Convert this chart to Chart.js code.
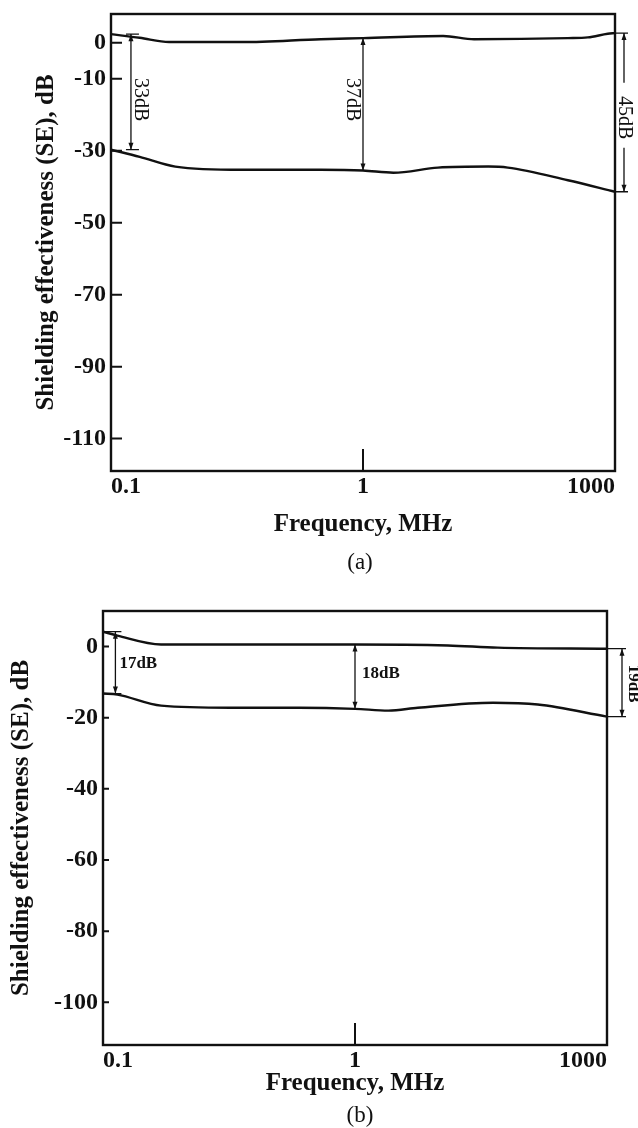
<!DOCTYPE html>
<html>
<head>
<meta charset="utf-8">
<script src="https://cdn.jsdelivr.net/npm/chart.js@4.4.1/dist/chart.umd.min.js"></script>
<style>
  html, body { margin: 0; padding: 0; background: #fff; }
  canvas { display: block; }
</style>
</head>
<body>
<canvas id="chartA" width="638" height="580"></canvas>
<canvas id="chartB" width="638" height="548"></canvas>
<script>
// x axis labels, MHz (the figure gives 0.1-1 and 1-1000 equal halves)
var freqTicks = [0.1, 1, 1000];

// (a)
var freqTopA = [0.1, 0.13, 0.17, 0.33, 0.68, 1, 9, 21, 275, 475, 820, 1000];
var seTopA   = [2.4, 1.4, 0.2, 0.2, 1.0, 1.3, 1.9, 1.0, 1.3, 1.5, 2.5, 2.7];
var freqBotA = [0.1, 0.13, 0.18, 0.33, 0.68, 1, 2.3, 7.8, 31, 53, 275, 1000];
var seBotA   = [-29.7, -31.7, -34.4, -35.3, -35.3, -35.5, -36.1, -34.7, -34.4, -34.7, -38.2, -41.4];
var yTicksA  = [0, -10, -30, -50, -70, -90, -110];

// (b)
var freqTopB = [0.1, 0.114, 0.17, 0.73, 1, 12.8, 50, 1000];
var seTopB   = [4.2, 3.1, 0.6, 0.6, 0.6, 0.3, -0.3, -0.6];
var freqBotB = [0.1, 0.114, 0.17, 0.32, 0.6, 1, 2.5, 5.6, 44, 150, 1000];
var seBotB   = [-13.2, -13.5, -16.6, -17.2, -17.2, -17.5, -18.0, -17.2, -15.8, -16.3, -19.7];
var yTicksB  = [0, -20, -40, -60, -80, -100];

var INK = '#111';
var SERIF = '"Liberation Serif", "DejaVu Serif", serif';

// frequency -> position on the 0..1 axis
function fpos(f) {
  return f <= 1 ? (Math.log10(f) + 1) / 2 : 0.5 + Math.log10(f) / 6;
}

function toXY(freq, se) {
  return freq.map(function(f, i) { return {x: fpos(f), y: se[i]}; });
}

function arrowHead(ctx, x, y, dir) {
  ctx.beginPath();
  ctx.moveTo(x, y);
  ctx.lineTo(x - 2.5, y - dir * 7);
  ctx.lineTo(x + 2.5, y - dir * 7);
  ctx.closePath();
  ctx.fill();
}

// double arrow between y1 (top) and y2 (bottom)
function dimLine(ctx, x, y1, y2, cap, gap) {
  ctx.save();
  ctx.strokeStyle = INK;
  ctx.fillStyle = INK;
  ctx.lineWidth = 1.3;
  ctx.beginPath();
  if (gap) {
    ctx.moveTo(x, y1); ctx.lineTo(x, gap[0]);
    ctx.moveTo(x, gap[1]); ctx.lineTo(x, y2);
  } else {
    ctx.moveTo(x, y1); ctx.lineTo(x, y2);
  }
  if (cap) {
    ctx.moveTo(cap[0], y1); ctx.lineTo(cap[1], y1);
    ctx.moveTo(cap[0], y2); ctx.lineTo(cap[1], y2);
  }
  ctx.stroke();
  arrowHead(ctx, x, y1, -1);
  arrowHead(ctx, x, y2, 1);
  ctx.restore();
}

function label(ctx, text, x, y, font, rotated) {
  ctx.save();
  ctx.font = font;
  ctx.fillStyle = INK;
  ctx.textBaseline = 'middle';
  ctx.textAlign = rotated ? 'center' : 'left';
  ctx.translate(x, y);
  if (rotated) ctx.rotate(Math.PI / 2);
  ctx.fillText(text, 0, 0);
  ctx.restore();
}

function caption(ctx, text, x, y) {
  ctx.save();
  ctx.font = '23px ' + SERIF;
  ctx.fillStyle = INK;
  ctx.textAlign = 'center';
  ctx.textBaseline = 'middle';
  ctx.fillText(text, x, y);
  ctx.restore();
}

function annotateA(chart) {
  var ctx = chart.ctx, a = chart.chartArea, xs = chart.scales.x, ys = chart.scales.y;
  var px = function(f) { return xs.getPixelForValue(fpos(f)); };
  var py = function(v) { return ys.getPixelForValue(v); };
  var f = '20px ' + SERIF;

  var x1 = px(0.12);
  dimLine(ctx, x1, py(2.4), py(-29.7), [x1 - 5, x1 + 8]);
  label(ctx, '33dB', x1 + 9, py(-15.8), f, true);

  var x2 = px(1);
  dimLine(ctx, x2, py(1.3), py(-35.5));
  label(ctx, '37dB', x2 - 11, py(-15.8), f, true);

  var x3 = a.right + 9;
  var yc = py(-20.8);
  dimLine(ctx, x3, py(2.7), py(-41.4), [a.right, a.right + 13], [yc - 35, yc + 30]);
  label(ctx, '45dB', x3, yc, f, true);

  caption(ctx, '(a)', 360, 563);
}

function annotateB(chart) {
  var ctx = chart.ctx, a = chart.chartArea, xs = chart.scales.x, ys = chart.scales.y;
  var px = function(f) { return xs.getPixelForValue(fpos(f)); };
  var py = function(v) { return ys.getPixelForValue(v); };
  var f = 'bold 17px ' + SERIF;

  var x1 = px(0.112);
  dimLine(ctx, x1, py(4.2), py(-13.2), [a.left, x1 + 6]);
  label(ctx, '17dB', x1 + 4, py(-4.8), f, false);

  var x2 = px(1);
  dimLine(ctx, x2, py(0.6), py(-17.5));
  label(ctx, '18dB', x2 + 7, py(-7.6), f, false);

  var x3 = a.right + 15;
  dimLine(ctx, x3, py(-0.6), py(-19.7), [a.right, a.right + 19]);
  label(ctx, '19dB', x3 + 11, py(-10.4), f, true);

  caption(ctx, '(b)', 360, 536);
}

function framePlugin(tickLen, annotate) {
  return {
    id: 'frame',
    afterDatasetsDraw: function(chart) {
      var ctx = chart.ctx, a = chart.chartArea, ys = chart.scales.y, xs = chart.scales.x;
      ctx.save();
      ctx.strokeStyle = INK;
      ctx.lineWidth = 2.4;
      ctx.strokeRect(a.left, a.top, a.right - a.left, a.bottom - a.top);
      ctx.lineWidth = 2;
      ctx.beginPath();
      ys.ticks.forEach(function(t) {
        var y = ys.getPixelForValue(t.value);
        ctx.moveTo(a.left, y);
        ctx.lineTo(a.left + tickLen, y);
      });
      var mx = xs.getPixelForValue(fpos(1));
      ctx.moveTo(mx, a.bottom);
      ctx.lineTo(mx, a.bottom - 22);
      ctx.stroke();
      ctx.restore();
      annotate(chart);
    }
  };
}

function lineSet(data) {
  return {
    data: data,
    borderColor: INK,
    borderWidth: 2.4,
    pointRadius: 0,
    fill: false,
    cubicInterpolationMode: 'monotone'
  };
}

function makeChart(id, c) {
  return new Chart(document.getElementById(id), {
    type: 'line',
    data: {
      datasets: [lineSet(c.top), lineSet(c.bottom)]
    },
    options: {
      responsive: false,
      animation: false,
      devicePixelRatio: 1,
      layout: { padding: c.pad },
      plugins: { legend: { display: false }, tooltip: { enabled: false } },
      scales: {
        x: {
          type: 'linear',
          min: 0,
          max: 1,
          grid: { display: false, drawTicks: false },
          border: { display: false },
          afterBuildTicks: function(scale) {
            scale.ticks = freqTicks.map(function(f) { return {value: fpos(f)}; });
          },
          afterFit: function(scale) {
            scale.height = c.axisH;
            scale.paddingLeft = 0; scale.paddingRight = 0;
          },
          ticks: {
            autoSkip: false,
            maxRotation: 0,
            align: 'inner',
            padding: 1,
            color: INK,
            font: { family: SERIF, size: 24, weight: 'bold', lineHeight: 1.2 },
            callback: function(value, index) { return String(freqTicks[index]); }
          },
          title: {
            display: true,
            text: 'Frequency, MHz',
            color: INK,
            font: { family: SERIF, size: 25, weight: 'bold', lineHeight: 1.2 },
            padding: { top: 0, bottom: c.xTitlePad }
          }
        },
        y: {
          min: c.yMin,
          max: c.yMax,
          grid: { display: false, drawTicks: false },
          border: { display: false },
          afterBuildTicks: function(scale) {
            scale.ticks = c.yTicks.map(function(v) { return {value: v}; });
          },
          afterFit: function(scale) {
            scale.width = c.axisW;
            scale.paddingTop = 0; scale.paddingBottom = 0;
          },
          ticks: {
            padding: 5,
            color: INK,
            font: { family: SERIF, size: 24, weight: 'bold', lineHeight: 1.2 },
            callback: function(value) { return String(value); }
          },
          title: {
            display: true,
            text: 'Shielding effectiveness (SE), dB',
            color: INK,
            font: { family: SERIF, size: 25, weight: 'bold', lineHeight: 1.2 },
            padding: { top: c.yTitlePad, bottom: 0 }
          }
        }
      }
    },
    plugins: [framePlugin(c.tickLen, c.annotate)]
  });
}

makeChart('chartA', {
  top: toXY(freqTopA, seTopA),
  bottom: toXY(freqBotA, seBotA),
  yMin: -119, yMax: 8, yTicks: yTicksA,
  pad: { top: 14, right: 23, left: 0, bottom: 0 },
  axisW: 111, axisH: 109,
  xTitlePad: 40, yTitlePad: 32,
  tickLen: 11,
  annotate: annotateA
});

makeChart('chartB', {
  top: toXY(freqTopB, seTopB),
  bottom: toXY(freqBotB, seBotB),
  yMin: -112, yMax: 10, yTicks: yTicksB,
  pad: { top: 31, right: 31, left: 0, bottom: 0 },
  axisW: 103, axisH: 83,
  xTitlePad: 29, yTitlePad: 7,
  tickLen: 6,
  annotate: annotateB
});
</script>
</body>
</html>
